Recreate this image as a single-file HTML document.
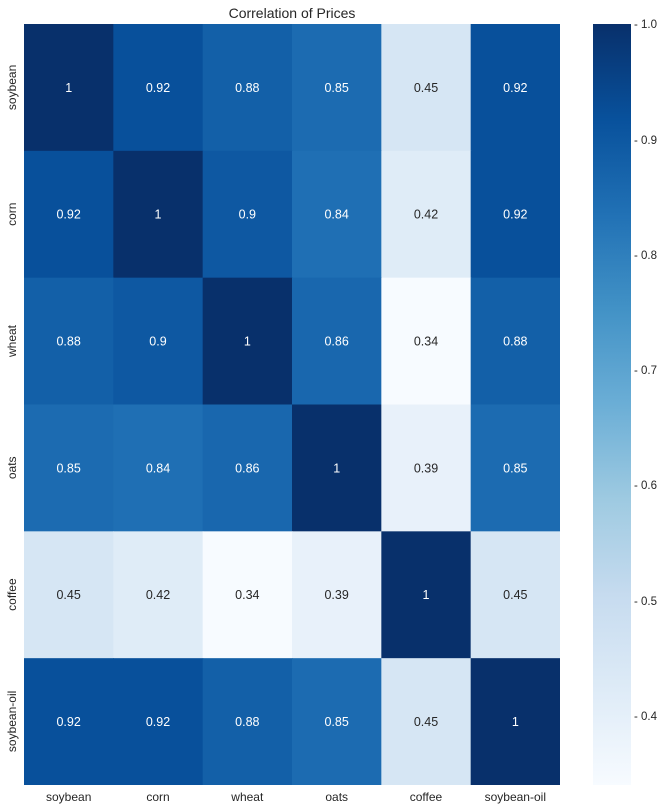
<!DOCTYPE html>
<html><head><meta charset="utf-8"><style>body{margin:0;background:#fff}svg{display:block}</style></head><body>
<svg width="662" height="812" xmlns="http://www.w3.org/2000/svg" font-family="Liberation Sans, DejaVu Sans, sans-serif">
<defs><linearGradient id="g" x1="0" y1="1" x2="0" y2="0">
<stop offset="0" stop-color="#f7fbff"/><stop offset="0.125" stop-color="#deebf7"/><stop offset="0.25" stop-color="#c6dbef"/><stop offset="0.375" stop-color="#9ecae1"/><stop offset="0.5" stop-color="#6baed6"/><stop offset="0.625" stop-color="#4292c6"/><stop offset="0.75" stop-color="#2171b5"/><stop offset="0.875" stop-color="#08519c"/><stop offset="1" stop-color="#08306b"/></linearGradient></defs>
<text x="292" y="18" font-size="14" text-anchor="middle" fill="#262626">Correlation of Prices</text>
<g>
<!-- row 0 -->
<rect x="24" y="24" width="90" height="127.5" fill="#08306b"/>
<rect x="113.33" y="24" width="90" height="127.5" fill="#08509b"/>
<rect x="202.67" y="24" width="90" height="127.5" fill="#1360a8"/>
<rect x="292" y="24" width="90" height="127.5" fill="#1c6bb1"/>
<rect x="381.33" y="24" width="90" height="127.5" fill="#d6e6f4"/>
<rect x="470.67" y="24" width="89.33" height="127.5" fill="#08509b"/>
<!-- row 1 -->
<rect x="24" y="150.83" width="90" height="127.5" fill="#08509b"/>
<rect x="113.33" y="150.83" width="90" height="127.5" fill="#08306b"/>
<rect x="202.67" y="150.83" width="90" height="127.5" fill="#0e58a2"/>
<rect x="292" y="150.83" width="90" height="127.5" fill="#1f6fb4"/>
<rect x="381.33" y="150.83" width="90" height="127.5" fill="#dfecf7"/>
<rect x="470.67" y="150.83" width="89.33" height="127.5" fill="#08509b"/>
<!-- row 2 -->
<rect x="24" y="277.67" width="90" height="127.5" fill="#1360a8"/>
<rect x="113.33" y="277.67" width="90" height="127.5" fill="#0e58a2"/>
<rect x="202.67" y="277.67" width="90" height="127.5" fill="#08306b"/>
<rect x="292" y="277.67" width="90" height="127.5" fill="#1967ae"/>
<rect x="381.33" y="277.67" width="90" height="127.5" fill="#f7fbff"/>
<rect x="470.67" y="277.67" width="89.33" height="127.5" fill="#1360a8"/>
<!-- row 3 -->
<rect x="24" y="404.5" width="90" height="127.5" fill="#1c6bb1"/>
<rect x="113.33" y="404.5" width="90" height="127.5" fill="#1f6fb4"/>
<rect x="202.67" y="404.5" width="90" height="127.5" fill="#1967ae"/>
<rect x="292" y="404.5" width="90" height="127.5" fill="#08306b"/>
<rect x="381.33" y="404.5" width="90" height="127.5" fill="#e8f1fa"/>
<rect x="470.67" y="404.5" width="89.33" height="127.5" fill="#1c6bb1"/>
<!-- row 4 -->
<rect x="24" y="531.33" width="90" height="127.5" fill="#d6e6f4"/>
<rect x="113.33" y="531.33" width="90" height="127.5" fill="#dfecf7"/>
<rect x="202.67" y="531.33" width="90" height="127.5" fill="#f7fbff"/>
<rect x="292" y="531.33" width="90" height="127.5" fill="#e8f1fa"/>
<rect x="381.33" y="531.33" width="90" height="127.5" fill="#08306b"/>
<rect x="470.67" y="531.33" width="89.33" height="127.5" fill="#d6e6f4"/>
<!-- row 5 -->
<rect x="24" y="658.17" width="90" height="126.83" fill="#08509b"/>
<rect x="113.33" y="658.17" width="90" height="126.83" fill="#08509b"/>
<rect x="202.67" y="658.17" width="90" height="126.83" fill="#1360a8"/>
<rect x="292" y="658.17" width="90" height="126.83" fill="#1c6bb1"/>
<rect x="381.33" y="658.17" width="90" height="126.83" fill="#d6e6f4"/>
<rect x="470.67" y="658.17" width="89.33" height="126.83" fill="#08306b"/>
</g>
<g font-size="12.5" text-anchor="middle" fill="#ffffff">
<text x="68.67" y="91.9">1</text><text x="158" y="91.9">0.92</text><text x="247.33" y="91.9">0.88</text><text x="336.67" y="91.9">0.85</text><text x="426" y="91.9" fill="#262626">0.45</text><text x="515.33" y="91.9">0.92</text>
<text x="68.67" y="218.7">0.92</text><text x="158" y="218.7">1</text><text x="247.33" y="218.7">0.9</text><text x="336.67" y="218.7">0.84</text><text x="426" y="218.7" fill="#262626">0.42</text><text x="515.33" y="218.7">0.92</text>
<text x="68.67" y="345.6">0.88</text><text x="158" y="345.6">0.9</text><text x="247.33" y="345.6">1</text><text x="336.67" y="345.6">0.86</text><text x="426" y="345.6" fill="#262626">0.34</text><text x="515.33" y="345.6">0.88</text>
<text x="68.67" y="472.4">0.85</text><text x="158" y="472.4">0.84</text><text x="247.33" y="472.4">0.86</text><text x="336.67" y="472.4">1</text><text x="426" y="472.4" fill="#262626">0.39</text><text x="515.33" y="472.4">0.85</text>
<g fill="#262626"><text x="68.67" y="599.2">0.45</text><text x="158" y="599.2">0.42</text><text x="247.33" y="599.2">0.34</text><text x="336.67" y="599.2">0.39</text><text x="426" y="599.2" fill="#ffffff">1</text><text x="515.33" y="599.2">0.45</text></g>
<text x="68.67" y="726.1">0.92</text><text x="158" y="726.1">0.92</text><text x="247.33" y="726.1">0.88</text><text x="336.67" y="726.1">0.85</text><text x="426" y="726.1" fill="#262626">0.45</text><text x="515.33" y="726.1">1</text>
</g>
<rect x="593" y="24" width="38" height="761" fill="url(#g)"/>
<g font-size="11.5" fill="#262626">
<text x="634" y="720">- 0.4</text><text x="634" y="605">- 0.5</text><text x="634" y="489">- 0.6</text><text x="634" y="374">- 0.7</text><text x="634" y="259">- 0.8</text><text x="634" y="144">- 0.9</text><text x="634" y="28">- 1.0</text>
</g>
<g font-size="12" fill="#262626" text-anchor="middle">
<text x="68.7" y="801">soybean</text><text x="158" y="801">corn</text><text x="247.3" y="801">wheat</text><text x="336.7" y="801">oats</text><text x="426" y="801">coffee</text><text x="515.3" y="801">soybean-oil</text>
<text transform="translate(16,87.4) rotate(-90)">soybean</text>
<text transform="translate(16,214.2) rotate(-90)">corn</text>
<text transform="translate(16,341) rotate(-90)">wheat</text>
<text transform="translate(16,467.8) rotate(-90)">oats</text>
<text transform="translate(16,594.6) rotate(-90)">coffee</text>
<text transform="translate(16,721.4) rotate(-90)">soybean-oil</text>
</g>
</svg>
</body></html>
